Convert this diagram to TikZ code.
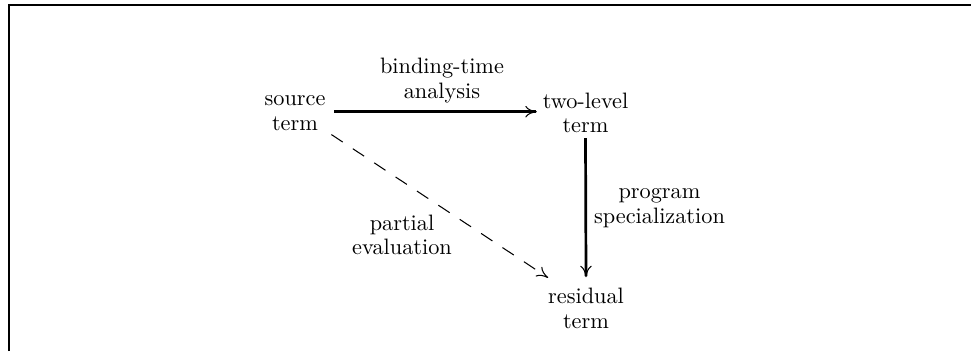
\documentclass[tikz,border=0pt]{standalone}
\usetikzlibrary{arrows.meta,calc}
\tikzset{
  lbl/.style={align=center, inner sep=0pt, outer sep=0pt, font=\fontsize{10.7}{11.8}\selectfont},
  tip/.style={-{To[length=5.5pt,width=5.5pt,line width=0.5pt]}},
  mainarrow/.style={tip, line width=1.3pt},
  pearrow/.style={tip, line width=0.5pt, dash pattern=on 6.5pt off 5.8pt},
}
\begin{document}
\begin{tikzpicture}[x=0.48pt,y=-0.48pt]
\useasboundingbox (0,0) rectangle (971,351);
% frame along the top and left sides
\draw[line width=1.1pt] (9.3,351) -- (9.3,4.8) -- (971,4.8);

% terms
\node[lbl] (src) at (295,113.2) {source\strut\\term\strut};
\node[lbl] (two) at (585.5,115.5) {two-level\strut\\term\strut};
\node[lbl] (res) at (586,310.8) {residual\strut\\term\strut};

% labels of the transformations
\node[lbl] (bta) at (442,81) {binding-time\strut\\analysis\strut};
\node[lbl] (ps) at (659.5,205.8) {program\strut\\specialization\strut};
\node[lbl] (pe) at (402,237.5) {partial\strut\\evaluation\strut};

% transformations
\draw[mainarrow] ($(src.east)+(9,-1.5)$) -- ($(two.west)+(-6,-3.8)$);
\draw[mainarrow] ($(two.south)+(0,-2)$) -- ($(res.north)+(0,-9)$);
\draw[pearrow] ($(src.south east)+(6,-3.2)$) -- ($(res.north west)+(0,-8.5)$);
\end{tikzpicture}
\end{document}
